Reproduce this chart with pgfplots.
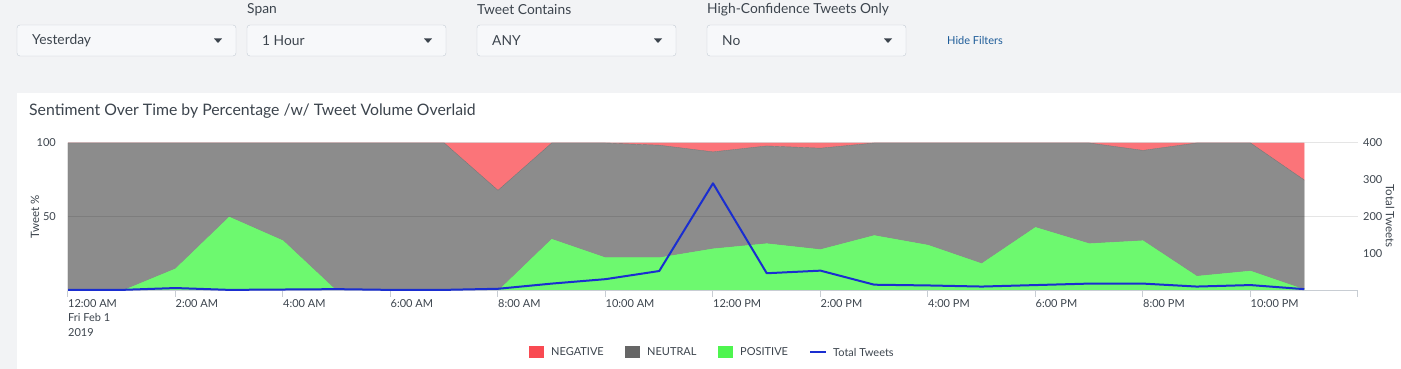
\documentclass[border=0pt]{standalone}
\usepackage{pgfplots}
\pgfplotsset{compat=1.18}
\usepackage{fontspec}
\setmainfont{Lato}
\definecolor{bg}{HTML}{F2F3F5}
\definecolor{boxfill}{HTML}{F7F8FA}
\definecolor{boxline}{HTML}{C3CBD4}
\definecolor{txt}{HTML}{3C444D}
\definecolor{linkc}{HTML}{1E5C99}
\definecolor{negA}{HTML}{FB7479}
\definecolor{neuA}{HTML}{8C8C8C}
\definecolor{posA}{HTML}{6DF96F}
\definecolor{negL}{HTML}{F94A52}
\definecolor{neuL}{HTML}{666666}
\definecolor{posL}{HTML}{4EF54F}
\definecolor{lineblue}{HTML}{1A2ED0}
\definecolor{axisgray}{HTML}{C8CDD3}

\pgfplotstableread{
h pos neu neg tw
0 0 100 0 3
1 0 100 0 3
2 15 85 0 8
3 50 50 0 3
4 34 66 0 4
5 0 100 0 5
6 0 100 0 3
7 0 100 0 3
8 0 68 32 6
9 35 65 0 20
10 22.5 77.5 0 32
11 22.5 76 1.5 54
12 28.5 65.5 6 291
13 32 66 2 48
14 28 68.5 3.5 55
15 37.5 62.5 0 17
16 31 69 0 15
17 18.5 81.5 0 12
18 43 57 0 16
19 32 68 0 20
20 34 61 5 20
21 10 90 0 12
22 13.5 86.5 0 16
23 1 74 25 5
}\datatable

\begin{document}
\begin{tikzpicture}
\useasboundingbox (0pt,0pt) rectangle (1401pt,369pt);
\fill[bg] (0pt,0pt) rectangle (1401pt,369pt);
% filter bar
\tikzset{lbl/.style={anchor=west,font=\fontsize{13.8}{15}\selectfont,text=txt,inner sep=0pt}}
\node[lbl] at (247pt,359pt) {Span};
\node[lbl] at (477pt,359pt) {Tweet Contains};
\node[lbl] at (707pt,359pt) {High-Confidence Tweets Only};
\foreach \xa/\xb/\t in {17/236/Yesterday,247/446/1 Hour,477/676/ANY,707/906/No}{
  \draw[boxline,fill=boxfill,rounded corners=3pt] (\xa pt,313pt) rectangle (\xb pt,344pt);
  \node[lbl] at (\xa pt+15pt,328.5pt) {\t};
  \fill[txt] (\xb pt-22pt,330.5pt) -- (\xb pt-14pt,330.5pt) -- (\xb pt-18pt,326pt) -- cycle;
}
\node[anchor=west,inner sep=0pt,font=\fontsize{11}{13}\selectfont,text=linkc] at (947pt,329pt) {Hide Filters};
% panel
\fill[white] (17pt,0pt) rectangle (1401pt,276pt);
\node[anchor=west,inner sep=0pt,font=\fontsize{15.8}{17}\selectfont,text=txt] at (29pt,258pt) {Sentiment Over Time by Percentage /w/ Tweet Volume Overlaid};

\begin{axis}[
  at={(68pt,78pt)}, anchor=south west,
  width=1290pt, height=148pt, scale only axis,
  xmin=0, xmax=24, ymin=0, ymax=100,
  axis x line*=bottom, axis y line*=left,
  x axis line style={draw=axisgray, line width=1pt},
  y axis line style={draw=none},
  axis on top,
  stack plots=y,
  xtick={0,2,...,24},
  xticklabels={{12:00 AM\\Fri Feb 1\\2019},2:00 AM,4:00 AM,6:00 AM,8:00 AM,10:00 AM,12:00 PM,2:00 PM,4:00 PM,6:00 PM,8:00 PM,10:00 PM,{}},
  xticklabel style={anchor=north west, align=left, inner xsep=0pt, inner ysep=0pt, yshift=-2pt,
     font=\fontsize{11}{14.5}\selectfont, text=txt},
  x tick style={draw=axisgray, line width=1pt},
  tick align=outside, major tick length=6pt,
  xtick pos=bottom,
  ytick={50,100},
  y tick style={draw=none},
  yticklabel style={font=\fontsize{11}{13}\selectfont, text=txt, inner sep=0pt, xshift=-6pt},
  /pgf/number format/assume math mode=true,
  ymajorgrids,
  major grid style={black, opacity=0.1, line width=1pt},
]
\addplot[fill=posA, draw=posA, line width=0.4pt] table[x=h,y=pos]{\datatable} \closedcycle;
\addplot[fill=neuA, draw=neuA!85!black, line width=0.4pt] table[x=h,y=neu]{\datatable} \closedcycle;
\addplot[fill=negA, draw=negA, line width=0.4pt] table[x=h,y=neg]{\datatable} \closedcycle;
\end{axis}

\begin{axis}[
  at={(68pt,78pt)}, anchor=south west,
  width=1290pt, height=148pt, scale only axis,
  xmin=0, xmax=24, ymin=0, ymax=400,
  axis x line=none, axis y line*=right,
  y axis line style={draw=none},
  ytick={100,200,300,400},
  y tick style={draw=none},
  yticklabel style={font=\fontsize{11}{13}\selectfont, text=txt, inner sep=0pt, xshift=5pt},
  /pgf/number format/assume math mode=true,
]
\addplot[lineblue, line width=2pt, line join=round] table[x=h,y=tw]{\datatable};
\end{axis}

% axis titles
\node[rotate=90,font=\fontsize{11.5}{13}\selectfont,text=txt,inner sep=0pt] at (35pt,152pt) {Tweet \%};
\node[rotate=-90,font=\fontsize{11.5}{13}\selectfont,text=txt,inner sep=0pt] at (1390pt,153pt) {Total Tweets};

% legend
\tikzset{leg/.style={anchor=west,inner sep=0pt,font=\fontsize{11}{13}\selectfont,text=txt}}
\fill[negL] (529pt,11pt) rectangle (544pt,23pt);
\node[leg] at (551pt,17pt) {NEGATIVE};
\fill[neuL] (625pt,11pt) rectangle (640pt,23pt);
\node[leg] at (647pt,17pt) {NEUTRAL};
\fill[posL] (718pt,11pt) rectangle (733pt,23pt);
\node[leg] at (740pt,17pt) {POSITIVE};
\draw[lineblue,line width=2pt] (810pt,17pt) -- (826pt,17pt);
\node[leg] at (833pt,17pt) {Total Tweets};
\end{tikzpicture}
\end{document}
